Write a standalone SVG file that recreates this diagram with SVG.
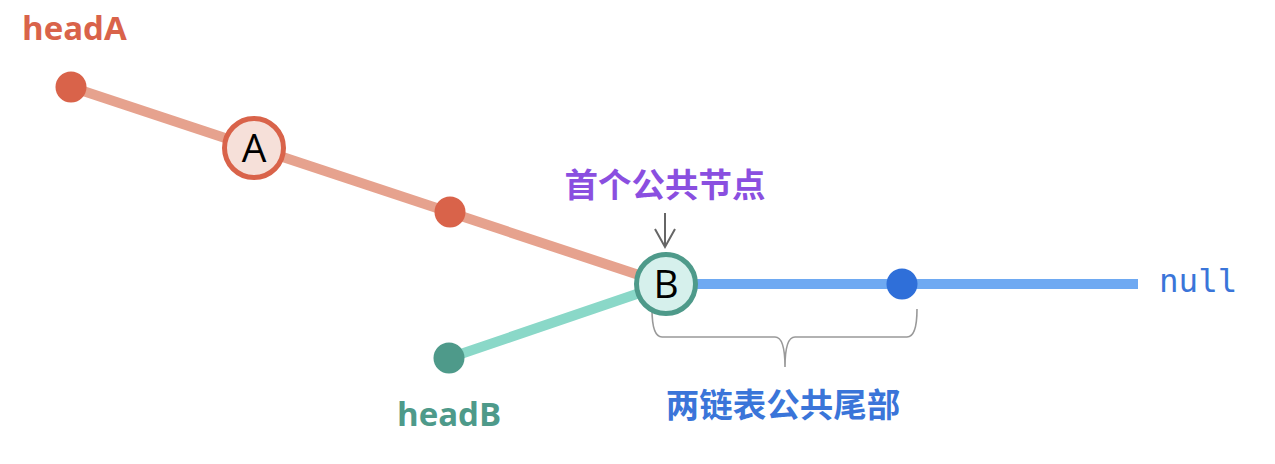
<svg xmlns="http://www.w3.org/2000/svg" width="1275" height="464" viewBox="0 0 1275 464">
<defs>
<style>
.lbl{font-family:"Open Sans","Noto Sans",sans-serif;font-weight:bold;font-size:33px}
.cn{font-family:"Noto Sans CJK SC","Noto Sans",sans-serif;font-weight:bold;font-size:33.5px;text-anchor:middle}
.node{font-family:"Open Sans","Noto Sans",sans-serif;font-size:39px;fill:#000;text-anchor:middle}
.edge{fill:none;stroke-width:10;stroke-linecap:butt}
</style>
</defs>
<rect width="1275" height="464" fill="#fff"/>
<g id="connectors">
<line class="edge" x1="71" y1="87" x2="666" y2="284" stroke="#E6A28E"/>
<line class="edge" x1="449" y1="358" x2="666" y2="284" stroke="#8AD8C8"/>
<line class="edge" x1="666" y1="284" x2="1138" y2="284" stroke="#6EA9F2"/>
<g id="pointer-arrow" stroke="#666" stroke-width="2" fill="none">
<line x1="665" y1="213" x2="665" y2="247"/>
<polyline points="655,229 665,247 675,229"/>
</g>
<path id="brace" d="M652,309 Q652,337 662,337 L775,337 Q785,337 785,367 Q785,337 795,337 L907,337 Q917,337 917,309" fill="none" stroke="#999" stroke-width="1.6"/>
</g>
<g id="headA">
<text class="lbl" x="22" y="40" fill="#D9634A">headA</text>
<circle cx="71" cy="87" r="15.5" fill="#D9634A"/>
</g>
<g id="nodeA">
<circle cx="254" cy="148" r="29.5" fill="#F6E0D9" stroke="#D9634A" stroke-width="5"/>
<text class="node" x="254" y="161.5">A</text>
</g>
<g id="nodeA2">
<circle cx="450" cy="212" r="15.5" fill="#D9634A"/>
</g>
<g id="headB">
<circle cx="449" cy="358" r="15.5" fill="#4E9A8A"/>
<text class="lbl" x="397" y="426" fill="#4E9A8A">headB</text>
</g>
<g id="nodeB">
<circle cx="666" cy="284" r="29.5" fill="#D6F0EC" stroke="#4E9A8A" stroke-width="5"/>
<text class="node" x="666" y="297.5">B</text>
</g>
<g id="nodeC">
<circle cx="902" cy="284" r="15.5" fill="#2F6FD9"/>
</g>
<g id="null">
<text x="1159" y="292" font-family="DejaVu Sans Mono,Liberation Mono,monospace" font-size="32.5" fill="#3A75D9">null</text>
</g>
<g id="label-first">
<text class="cn" x="665" y="197" fill="#8A4FE0">首个公共节点</text>
</g>
<g id="label-tail">
<text class="cn" x="783" y="417" fill="#3A75D9">两链表公共尾部</text>
</g>
</svg>
